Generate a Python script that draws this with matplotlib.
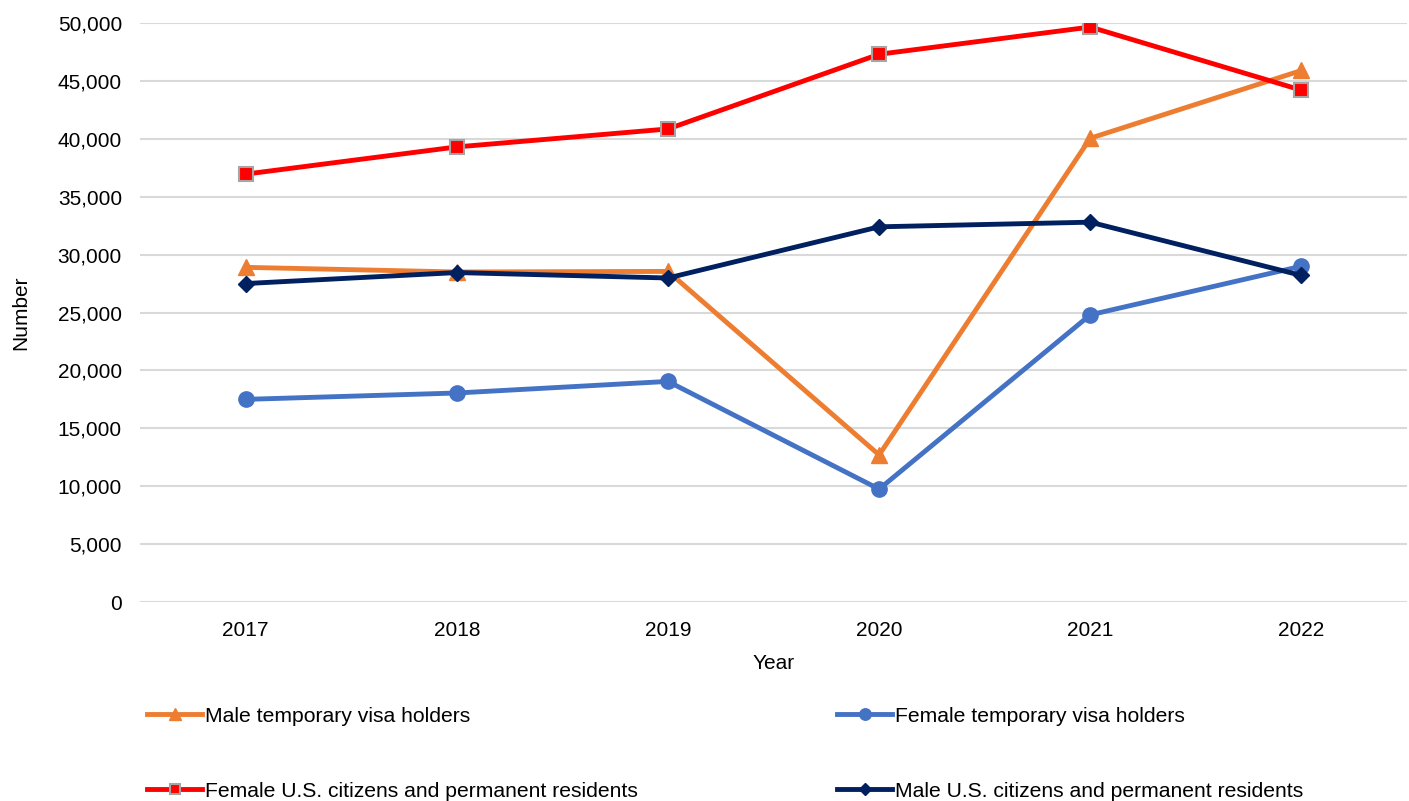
import matplotlib.pyplot as plt
from matplotlib.ticker import FuncFormatter

plt.rcParams['font.family'] = ['Liberation Sans', 'DejaVu Sans']

years = ['2017', '2018', '2019', '2020', '2021', '2022']
male_temp = [28900, 28500, 28550, 12700, 40050, 45900]
female_temp = [17500, 18050, 19050, 9750, 24800, 29000]
female_us = [36950, 39300, 40850, 47300, 49650, 44200]
male_us = [27500, 28450, 27980, 32400, 32800, 28200]

fig = plt.figure(figsize=(14.09, 8.01), dpi=100)
ax = fig.add_axes([0.0994, 0.2484, 0.8992, 0.7229])

x = range(len(years))
lw = 3.5
l1, = ax.plot(x, male_temp, color='#ED7D31', lw=lw, marker='^', ms=11,
              label='Male temporary visa holders', zorder=3)
l2, = ax.plot(x, female_temp, color='#4472C4', lw=lw, marker='o', ms=11,
              label='Female temporary visa holders', zorder=4)
l3, = ax.plot(x, female_us, color='#FF0000', lw=lw, marker='s', ms=10,
              mec='#A5A5A5', mew=1.5,
              label='Female U.S. citizens and permanent residents', zorder=5)
l4, = ax.plot(x, male_us, color='#002060', lw=lw, marker='D', ms=8,
              label='Male U.S. citizens and permanent residents', zorder=6)

ax.set_xlim(-0.5, 5.5)
ax.set_ylim(0, 50000)
ax.set_xticks(list(x))
ax.set_xticklabels(years)
ax.set_yticks(range(0, 50001, 5000))
ax.yaxis.set_major_formatter(FuncFormatter(lambda v, p: f'{int(v):,}'))
ax.grid(axis='y', color='#D9D9D9', lw=1.5)
ax.set_axisbelow(True)
for s in ax.spines.values():
    s.set_visible(False)
ax.tick_params(length=0, labelsize=15)
ax.tick_params(axis='y', pad=13)
ax.tick_params(axis='x', pad=14)
ax.set_xlabel('Year', fontsize=15, labelpad=10)
ax.set_ylabel('Number', fontsize=15, labelpad=20)

fig.legend(handles=[l1, l3, l2, l4], ncol=2, loc='upper left',
           bbox_to_anchor=(0.1044, 0.1175), frameon=False, fontsize=15.2,
           handlelength=2.6, handletextpad=0.15, labelspacing=2.65,
           columnspacing=9.43, borderaxespad=0, borderpad=0, markerscale=0.75)

fig.savefig('out.png', dpi=100)
